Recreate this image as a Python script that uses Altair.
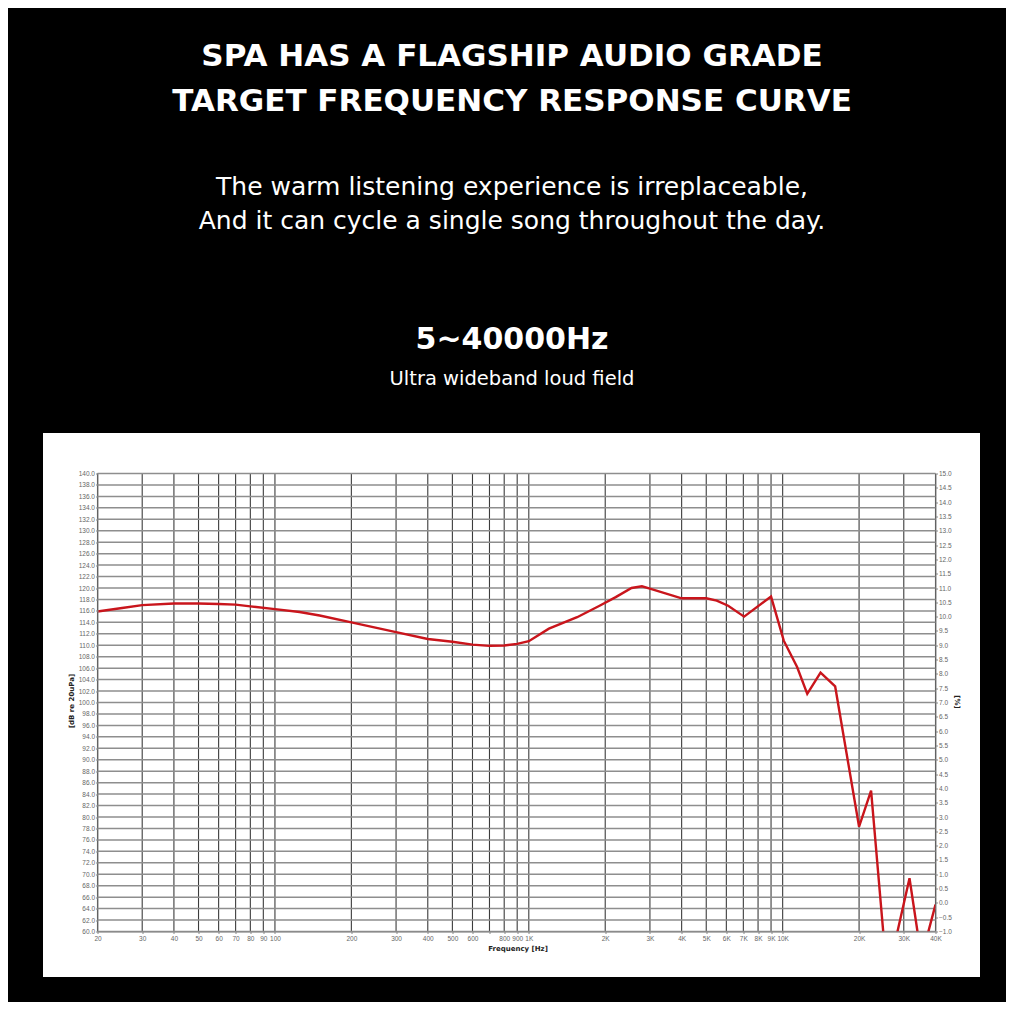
import altair as alt
import pandas as pd

# ---------------- data ----------------
FREQ = [20, 25, 30, 40, 50, 60, 70, 80, 100, 125, 150, 200, 300, 400, 500, 600,
        700, 800, 900, 1000, 1200, 1550, 1900, 2200, 2540, 2790, 3000, 4000,
        5000, 5500, 6100, 7050, 9000, 10100, 11400, 12500, 14100, 16100,
        20000, 22300, 25800, 31600, 35200, 40000]
SPL = [115.9, 116.5, 117.0, 117.3, 117.3, 117.2, 117.1, 116.8, 116.3, 115.8,
       115.2, 114.0, 112.3, 111.1, 110.6, 110.1, 109.9, 109.95, 110.25, 110.7,
       112.9, 114.9, 116.9, 118.4, 120.0, 120.3, 119.9, 118.2, 118.2, 117.8,
       116.9, 115.0, 118.5, 110.8, 106.2, 101.5, 105.2, 102.8, 78.3, 84.6,
       52.0, 69.3, 55.4, 64.7]

X_TICKS = [20, 30, 40, 50, 60, 70, 80, 90, 100, 200, 300, 400, 500, 600, 700,
           800, 900, 1000, 2000, 3000, 4000, 5000, 6000, 7000, 8000, 9000,
           10000, 20000, 30000, 40000]
X_LABELS = ["20", "30", "40", "50", "60", "70", "80", "90", "100", "200", "300",
            "400", "500", "600", "", "800", "900", "1K", "2K", "3K", "4K", "5K",
            "6K", "7K", "8K", "9K", "10K", "20K", "30K", "40K"]
Y_TICKS = [60 + 2 * i for i in range(41)]          # 60.0 ... 140.0 dB
PCT_TICKS = [-1.0 + 0.5 * i for i in range(33)]    # -1.0 ... 15.0 %

TITLE_1 = "SPA HAS A FLAGSHIP AUDIO GRADE"
TITLE_2 = "TARGET FREQUENCY RESPONSE CURVE"
SUB_1 = "The warm listening experience is irreplaceable,"
SUB_2 = "And it can cycle a single song throughout the day."
RANGE_TXT = "5~40000Hz"
RANGE_SUB = "Ultra wideband loud field"
X_TITLE = "Frequency  [Hz]"
Y_TITLE = "[dB re 20uPa]"
R_TITLE = "[%]"

curve = pd.DataFrame({"f": FREQ, "db": SPL})
xgrid = pd.DataFrame({"f": X_TICKS})
ygrid = pd.DataFrame({"db": Y_TICKS})
pgrid = pd.DataFrame({"p": PCT_TICKS})

FONT = "DejaVu Sans"
AX_FONT = "Liberation Sans"

label_expr = ""
for v, l in zip(X_TICKS, X_LABELS):
    label_expr += f"datum.value == {v} ? '{l}' : "
label_expr += "''"

xscale = alt.Scale(type="log", domain=[20, 40000], nice=False)
yscale = alt.Scale(domain=[60, 140], nice=False, zero=False)

one = alt.Data(values=[{"k": 1}])

panel = alt.Chart(one).mark_rect(color="white").encode(
    x=alt.value(-54.5), x2=alt.value(882.5), y=alt.value(-40.5), y2=alt.value(503.5)
)

vrules = alt.Chart(xgrid).mark_rule(color="#3c3c3c", strokeWidth=1.1).encode(
    x=alt.X("f:Q", scale=xscale, axis=alt.Axis(
        values=X_TICKS, labelExpr=label_expr, grid=False, labelOverlap=False,
        labelBound=False, labelFlush=False, labelFont=AX_FONT, labelFontSize=6.5,
        labelColor="#666", tickSize=2, tickColor="#888", domainColor="#888",
        labelPadding=2, title=None, zindex=1))
)

hrules = alt.Chart(ygrid).mark_rule(color="#8e8e8e", strokeWidth=1.5).encode(
    y=alt.Y("db:Q", scale=yscale, axis=alt.Axis(
        values=Y_TICKS, format=".1f", grid=False, labelOverlap=False,
        labelFont=AX_FONT, labelFontSize=6.5, labelColor="#666", tickSize=2,
        tickColor="#888", domainColor="#888", labelPadding=1, title=None,
        zindex=1))
)

right = alt.Chart(pgrid).mark_rule(opacity=0).encode(
    y=alt.Y("p:Q", scale=alt.Scale(domain=[-1, 15], nice=False, zero=False),
            axis=alt.Axis(orient="right", values=PCT_TICKS, format=".1f",
                          grid=False, labelOverlap=False, labelFont=AX_FONT,
                          labelFontSize=6.5, labelColor="#666", tickSize=2,
                          tickColor="#888", domainColor="#888", labelPadding=1,
                          title=None, zindex=1))
)

line = alt.Chart(curve).mark_line(color="#c9151c", strokeWidth=2.4, clip=True,
                                  strokeJoin="miter").encode(
    x=alt.X("f:Q", scale=xscale, axis=None),
    y=alt.Y("db:Q", scale=yscale, axis=None),
)


def txt(s, x, y, size, weight="normal", angle=0, font=FONT, color="white"):
    return alt.Chart(alt.Data(values=[{"t": s}])).mark_text(
        font=font, fontSize=size, fontWeight=weight, color=color, angle=angle,
        align="center", baseline="middle"
    ).encode(x=alt.value(x), y=alt.value(y), text="t:N")


texts = [
    txt(TITLE_1, 414.5, -416.5, 31, "bold"),
    txt(TITLE_2, 414.5, -371.5, 31, "bold"),
    txt(SUB_1, 414.5, -286.5, 25),
    txt(SUB_2, 414.5, -252.5, 25),
    txt(RANGE_TXT, 414.5, -133.5, 30, "bold"),
    txt(RANGE_SUB, 414.5, -94.5, 19.5),
    txt(X_TITLE, 420.5, 475, 7, "bold", font="DejaVu Sans", color="#222"),
    txt(Y_TITLE, -25.5, 227.5, 7, "bold", angle=270, font="DejaVu Sans", color="#222"),
    txt(R_TITLE, 859.5, 228.5, 7, "bold", angle=90, font="DejaVu Sans", color="#222"),
]

chart = alt.layer(panel, vrules, hrules, right, line, *texts).resolve_scale(
    y="independent"
).resolve_axis(x="independent", y="independent").properties(
    width=838, height=458,
    padding={"left": 89.5, "top": 465.5, "right": 70, "bottom": 70},
    autosize=alt.AutoSizeParams(type="none"),
    background="black",
).configure_view(stroke=None)

chart.save("out.html", embed_options={"renderer": "svg", "actions": False})
